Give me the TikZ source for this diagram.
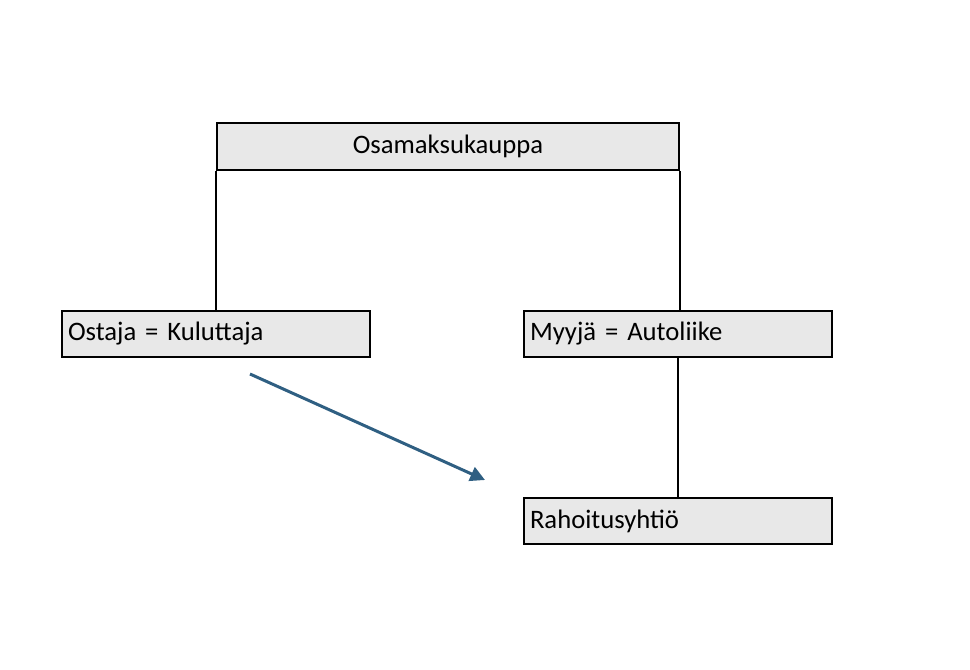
\documentclass[tikz,border=0pt]{standalone}
\usepackage{fontspec}
\setmainfont{Carlito}
\usetikzlibrary{arrows.meta}
\definecolor{boxgray}{RGB}{232,232,232}
\definecolor{arrowblue}{RGB}{47,95,130}
\begin{document}
\tikzset{every picture/.style={line width=0.75pt}}

\begin{tikzpicture}[x=0.75pt,y=0.75pt,yscale=-1,xscale=1,
  box/.style={draw,line width=1.5pt,fill=boxgray,minimum height=34.5pt,inner xsep=4.5pt,
    font=\fontsize{20}{24}\selectfont},
  sidebox/.style={box,text width=222pt,align=left},
  link/.style={line width=1.5pt}]
\useasboundingbox (0,0) rectangle (970,670);

% Boxes
\node [box,minimum width=346.5pt,minimum height=35.25pt] (osamaksu) at (448,146.5) {Osamaksukauppa};
\node [sidebox] (ostaja) at (216,334) {Ostaja = Kuluttaja};
\node [sidebox] (myyja) at (678,334) {Myyjä = Autoliike};
\node [sidebox] (rahoitus) at (678,521) {Rahoitusyhtiö};

% Connectors
\draw [link] (osamaksu.south west) -- (osamaksu.south west |- ostaja.north);
\draw [link] (osamaksu.south east) -- (osamaksu.south east |- myyja.north);
\draw [link] (myyja.south) -- (rahoitus.north);

% Arrow
\coordinate (arrowstart) at (250,374);
\coordinate (arrowend) at (485,480);
\draw [color=arrowblue,line width=2.25pt,-{Triangle[width=11pt,length=11pt]}] (arrowstart) -- (arrowend);
\end{tikzpicture}
\end{document}
